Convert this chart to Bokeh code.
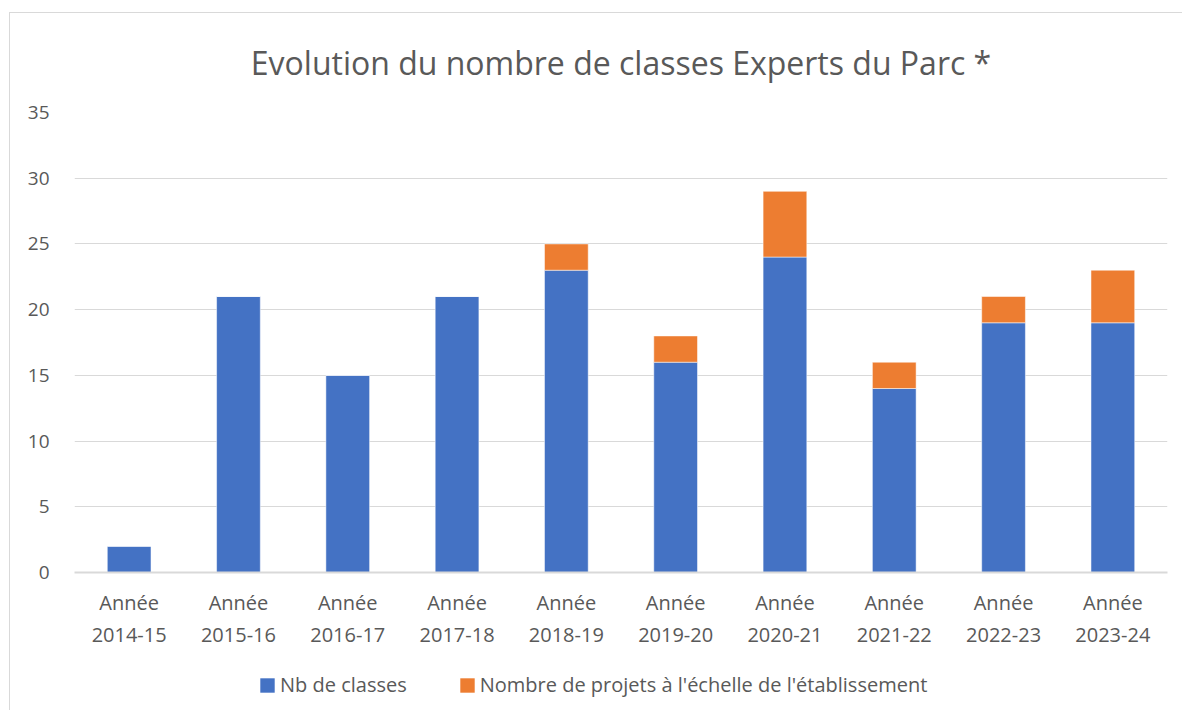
from bokeh.plotting import figure
from bokeh.models import FactorRange, Range1d, Legend, LegendItem, FixedTicker
from bokeh.layouts import column
from bokeh.embed import file_html
from bokeh.resources import INLINE

years = ["2014-15", "2015-16", "2016-17", "2017-18", "2018-19",
         "2019-20", "2020-21", "2021-22", "2022-23", "2023-24"]
categories = ["Année\n" + y for y in years]
nb_classes = [2, 21, 15, 21, 23, 16, 24, 14, 19, 19]
nb_projets = [0, 0, 0, 0, 2, 2, 5, 2, 2, 4]
series_names = ["Nb de classes", "Nombre de projets à l'échelle de l'établissement"]
colors = ["#4472C4", "#ED7D31"]
y_ticks = [0, 5, 10, 15, 20, 25, 30, 35]

FONT = "Open Sans"
TXT = "#595959"
GRID = "#d9d9d9"

p = figure(x_range=FactorRange(*categories, range_padding=0), y_range=Range1d(0, 35),
           frame_width=1093, frame_height=460, output_backend="svg", toolbar_location=None,
           title="Evolution du nombre de classes Experts du Parc *",
           min_border_left=64, min_border_right=16, min_border_top=99, min_border_bottom=90)

src = dict(cat=categories, a=nb_classes, b=nb_projets)
r = p.vbar_stack(["a", "b"], x="cat", width=0.4, color=colors, source=src,
                 line_color="white", line_alpha=0.5, line_width=1)

p.title.text_font = FONT
p.title.text_font_size = "32px"
p.title.text_font_style = "normal"
p.title.text_color = TXT
p.title.align = "center"
p.title.vertical_align = "top"
p.title.standoff = 53

p.outline_line_color = None
p.background_fill_color = "white"
p.border_fill_color = "white"

p.yaxis.ticker = FixedTicker(ticks=y_ticks)
p.yaxis.axis_line_color = None
p.yaxis.major_tick_line_color = None
p.yaxis.minor_tick_line_color = None
p.yaxis.major_tick_out = 0
p.yaxis.major_tick_in = 0
p.yaxis.major_label_text_font = FONT
p.yaxis.major_label_text_font_size = "19px"
p.yaxis.major_label_text_color = TXT
p.yaxis.major_label_standoff = 25

p.xaxis.axis_line_color = GRID
p.xaxis.axis_line_width = 2
p.xaxis.major_tick_line_color = None
p.xaxis.minor_tick_line_color = None
p.xaxis.major_tick_out = 0
p.xaxis.major_tick_in = 0
p.xaxis.major_label_text_font = FONT
p.xaxis.major_label_text_font_size = "20px"
p.xaxis.major_label_text_color = TXT
p.xaxis.major_label_standoff = 16

p.xgrid.grid_line_color = None
p.ygrid.grid_line_color = GRID
p.ygrid.grid_line_width = 1

# legend strip below the chart (its own bars lie outside its visible range)
lf = figure(width=1173, height=48, x_range=p.x_range, y_range=Range1d(100, 101),
            output_backend="svg", toolbar_location=None, min_border=0,
            x_axis_location=None, y_axis_location=None)
lf.outline_line_color = None
lf.grid.visible = False
lf.border_fill_color = "white"
lr = lf.vbar_stack(["a", "b"], x="cat", width=0.4, color=colors, source=src, line_color=None)
legend = Legend(items=[LegendItem(label=series_names[i], renderers=[lr[i]]) for i in range(2)],
                orientation="horizontal", location=(184, 12),
                label_text_font=FONT, label_text_font_size="20px", label_text_color=TXT,
                glyph_width=18, glyph_height=18, spacing=51, label_standoff=4, padding=0,
                border_line_color=None, background_fill_alpha=0, margin=0)
lf.add_layout(legend, "center")

lay = column(p, lf, spacing=0, margin=(12, 0, 0, 9),
             styles={"border-left": "1px solid #d9d9d9", "border-top": "1px solid #d9d9d9"})

open("out.html", "w").write(file_html(lay, INLINE))
